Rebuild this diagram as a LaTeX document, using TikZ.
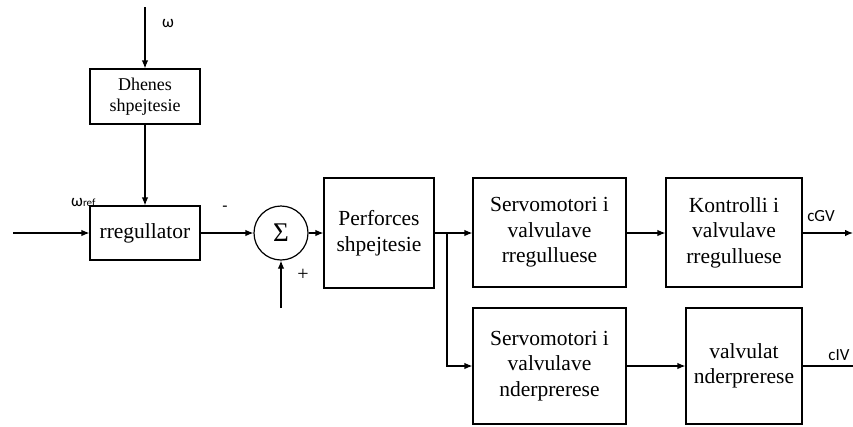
\documentclass[tikz,border=0pt]{standalone}
\usepackage{fontspec}
\setmainfont{Liberation Serif}
\newfontfamily\calib{Carlito}
\usetikzlibrary{arrows.meta}
\begin{document}
\begin{tikzpicture}[x=1pt,y=-1pt,
  blk/.style={draw,line width=1.2pt,inner sep=0pt,align=center,font=\fontsize{21.5}{25.5}\selectfont},
  sblk/.style={blk,font=\fontsize{18}{21}\selectfont},
  lbl/.style={font=\calib\fontsize{17}{20}\selectfont,inner sep=0pt},
  conn/.style={line width=1.2pt,-{Latex[length=8pt,width=6.5pt]}},
  plain/.style={line width=1.2pt}]
\useasboundingbox (0,0) rectangle (853,426);
\node[sblk,minimum width=110pt,minimum height=55pt] (dh) at (145,96.5) {Dhenes\\shpejtesie};
\node[blk,minimum width=110pt,minimum height=54pt] (rg) at (145,233) {rregullator};
\node[draw,circle,line width=1.2pt,minimum size=54pt,inner sep=0pt,font=\fontsize{27}{30}\selectfont] (sum) at (281,233) {Σ};
\node[blk,minimum width=110pt,minimum height=110pt] (pf) at (379,233) {Perforces\\shpejtesie};
\node[blk,minimum width=153pt,minimum height=109pt] (s1) at (549.5,232.5) {Servomotori i\\valvulave\\rregulluese};
\node[blk,minimum width=136pt,minimum height=109pt] (k1) at (734,232.5) {Kontrolli i\\valvulave\\rregulluese};
\node[blk,minimum width=153pt,minimum height=116pt] (s2) at (549.5,366) {Servomotori i\\valvulave\\nderprerese};
\node[blk,minimum width=116pt,minimum height=116pt] (v2) at (744,366) {valvulat\\nderprerese};
\coordinate (wtop) at (145,7);
\coordinate (inl) at (13,233);
\coordinate (sbot) at (281,308);
\coordinate (br) at (447,233);
\coordinate (brd) at (447,366);
\coordinate (o1) at (853,233);
\coordinate (o2) at (853,366);
\draw[conn] (wtop) -- (dh.north);
\draw[conn] (dh.south) -- (rg.north);
\draw[conn] (inl) -- (rg.west);
\draw[conn] (rg.east) -- (sum.west);
\draw[conn] (sbot) -- (sum.south);
\draw[conn] (sum.east) -- (pf.west);
\draw[conn] (pf.east) -- (s1.west |- pf.east);
\draw[conn] (br) -- (brd) -- (s2.west);
\draw[conn] (s1.east |- pf.east) -- (k1.west |- pf.east);
\draw[conn] (k1.east |- pf.east) -- (o1);
\draw[conn] (s2.east) -- (v2.west);
\draw[plain] (v2.east) -- (o2);
\node[lbl] (lw) at (168,24) {ω};
\node[lbl,anchor=base west] (lwref) at (71,206) {ω\fontsize{11}{13}\selectfont ref};
\node[lbl] (lm) at (225,209) {-};
\node[font=\fontsize{20}{22}\selectfont,inner sep=0pt] (lp) at (303,275) {+};
\node[lbl] (lcgv) at (821,216) {cGV};
\node[lbl] (lciv) at (839,355) {cIV};
\end{tikzpicture}
\end{document}
